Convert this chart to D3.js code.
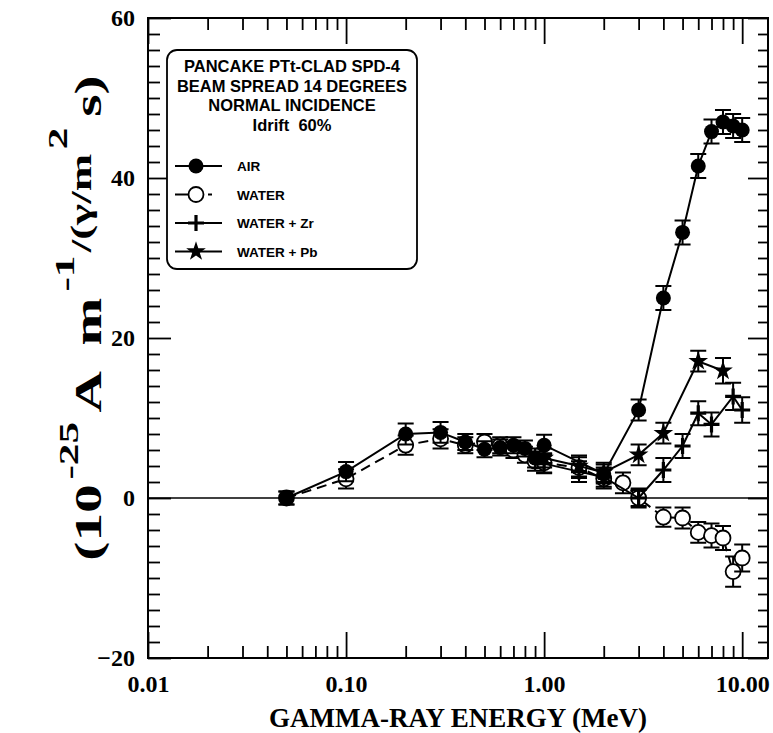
<!DOCTYPE html>
<html>
<head>
<meta charset="utf-8">
<script src="https://cdn.jsdelivr.net/npm/d3@7"></script>
<style>
  body { margin: 0; background: #fff; }
  svg { display: block; }
</style>
</head>
<body>
<svg id="chart" width="773" height="733"></svg>
<script>
// Measured responses (10^-25 A m^-1 per gamma/m^2 s) versus gamma-ray energy (MeV)
const airEnergy = [0.05, 0.1, 0.2, 0.3, 0.4, 0.5, 0.6, 0.7, 0.8, 0.9, 1.0, 2.0, 3, 4, 5, 6, 7, 8, 9, 10];
const airValue  = [0, 3.3, 8.0, 8.2, 7.0, 6.1, 6.3, 6.6, 6.2, 5.0, 6.6, 3.0, 11.0, 25.0, 33.2, 41.5, 45.8, 47.0, 46.5, 46.0];
const airError  = [0.8, 1.2, 1.3, 1.3, 1.0, 1.0, 1.0, 1.0, 1.0, 1.2, 1.3, 1.2, 1.3, 1.5, 1.5, 1.5, 1.5, 1.5, 1.5, 1.5];

const waterEnergy = [0.05, 0.1, 0.2, 0.3, 0.4, 0.5, 0.6, 0.7, 0.8, 0.9, 1.0, 1.5, 2.0, 2.5, 3, 4, 5, 6, 7, 8, 9, 10];
const waterValue  = [0, 2.4, 6.6, 7.4, 6.6, 7.0, 6.6, 6.0, 5.4, 4.6, 4.4, 3.8, 2.4, 1.9, 0, -2.4, -2.5, -4.3, -4.7, -5.0, -9.2, -7.5];
const waterError  = [0.8, 1.2, 1.2, 1.2, 1.0, 1.0, 1.0, 1.0, 1.0, 1.2, 1.2, 1.3, 1.2, 1.3, 1.2, 1.2, 1.3, 1.3, 1.5, 1.5, 1.9, 1.7];

const zrEnergy = [1.0, 1.5, 2.0, 3, 4, 5, 6, 7, 9, 10];
const zrValue  = [4.3, 3.3, 2.6, 0, 3.5, 6.5, 10.6, 9.2, 12.7, 11.0];
const zrError  = [1.2, 1.3, 1.2, 1.0, 1.5, 1.5, 1.5, 1.5, 1.7, 1.6];

const pbEnergy = [1.0, 1.5, 2.0, 3, 4, 6, 8];
const pbValue  = [5.0, 4.0, 3.2, 5.4, 8.1, 17.1, 15.9];
const pbError  = [1.2, 1.3, 1.2, 1.3, 1.3, 1.3, 1.6];

const legendTitle = ["PANCAKE PTt-CLAD SPD-4", "BEAM SPREAD 14 DEGREES", "NORMAL INCIDENCE", "Idrift  60%"];
const seriesNames = ["AIR", "WATER", "WATER + Zr", "WATER + Pb"];

const xMajorTicks = [0.01, 0.1, 1, 10];
const yMajorTicks = [-20, 0, 20, 40, 60];

const serif = "'Liberation Serif', 'Times New Roman', serif";
const sans = "'Liberation Sans', Arial, sans-serif";

const svg = d3.select("#chart");

const x = d3.scaleLog().domain([0.01, 13.5]).range([148, 768]);
const y = d3.scaleLinear().domain([-20, 60]).range([658, 18]);
const [x0, x1] = x.range();
const [y0, y1] = y.range();

// minor ticks: 2..9 within each decade
const xMinor = [];
[0.01, 0.1, 1].forEach(d => { for (let k = 2; k <= 9; k++) xMinor.push(d * k); });
const yMinor = d3.range(-20, 61, 2).filter(v => v % 20 !== 0);

const gAxes = svg.append("g").attr("stroke-linecap", "butt");

function styleAxis(g) {
  g.select(".domain").remove();
  g.selectAll(".tick line").attr("stroke", "#000").attr("stroke-width", 1.8);
  g.selectAll(".tick text").attr("fill", "#000");
}

// bottom
gAxes.append("g").attr("transform", `translate(0,${y0})`)
  .call(d3.axisBottom(x).tickValues(xMinor).tickSize(-12).tickFormat(""))
  .call(styleAxis);
gAxes.append("g").attr("transform", `translate(0,${y0})`)
  .call(d3.axisBottom(x).tickValues(xMajorTicks).tickSize(-26).tickPadding(17).tickFormat(d3.format(".2f")))
  .call(styleAxis)
  .call(g => g.selectAll(".tick text").attr("font-family", serif).attr("font-weight", "bold").attr("font-size", 24));
// top
gAxes.append("g").attr("transform", `translate(0,${y1})`)
  .call(d3.axisTop(x).tickValues(xMinor).tickSize(-12).tickFormat(""))
  .call(styleAxis);
gAxes.append("g").attr("transform", `translate(0,${y1})`)
  .call(d3.axisTop(x).tickValues(xMajorTicks).tickSize(-26).tickFormat(""))
  .call(styleAxis);
// left
gAxes.append("g").attr("transform", `translate(${x0},0)`)
  .call(d3.axisLeft(y).tickValues(yMinor).tickSize(-12).tickFormat(""))
  .call(styleAxis);
gAxes.append("g").attr("transform", `translate(${x0},0)`)
  .call(d3.axisLeft(y).tickValues(yMajorTicks).tickSize(-23).tickPadding(13).tickFormat(d3.format("d")))
  .call(styleAxis)
  .call(g => g.selectAll(".tick text").attr("font-family", serif).attr("font-weight", "bold").attr("font-size", 24));
// right
gAxes.append("g").attr("transform", `translate(${x1},0)`)
  .call(d3.axisRight(y).tickValues(yMinor).tickSize(-10).tickFormat(""))
  .call(styleAxis);
gAxes.append("g").attr("transform", `translate(${x1},0)`)
  .call(d3.axisRight(y).tickValues(yMajorTicks).tickSize(-20).tickFormat(""))
  .call(styleAxis);

// frame
svg.append("rect")
  .attr("x", x0).attr("y", y1).attr("width", x1 - x0).attr("height", y0 - y1)
  .attr("fill", "none").attr("stroke", "#000").attr("stroke-width", 2);

// zero line
svg.append("line")
  .attr("x1", x0).attr("x2", x1).attr("y1", y(0)).attr("y2", y(0))
  .attr("stroke", "#000").attr("stroke-width", 1.6);

// axis titles
svg.append("text")
  .attr("x", (x0 + x1) / 2).attr("y", 727)
  .attr("text-anchor", "middle")
  .attr("font-family", serif).attr("font-weight", "bold").attr("font-size", 27)
  .text("GAMMA-RAY ENERGY (MeV)");

// y title: wide bold serif with raised exponents
const yTitle = svg.append("text")
  .attr("transform", "translate(101,318) rotate(-90) scale(1.55,1)")
  .attr("text-anchor", "middle")
  .attr("font-family", serif).attr("font-weight", "bold").attr("font-size", 37)
  .style("white-space", "pre");
yTitle.append("tspan").text("(10");
yTitle.append("tspan").attr("dy", -23).attr("dx", 3).attr("font-size", 28).text("-25");
yTitle.append("tspan").attr("dy", 23).attr("dx", 6).text("A  m");
yTitle.append("tspan").attr("dy", -27).attr("dx", 4).attr("font-size", 28).text("-1");
yTitle.append("tspan").attr("dy", 17).attr("dx", 2).attr("font-size", 29).text("/(\u03b3/m");
yTitle.append("tspan").attr("dy", -24).attr("dx", 3).attr("font-size", 28).text("2");
yTitle.append("tspan").attr("dy", 34).attr("dx", 7).text("s)");

// series drawing
const series = [
  { name: seriesNames[0], E: airEnergy, V: airValue, S: airError, marker: "filled", dash: null },
  { name: seriesNames[1], E: waterEnergy, V: waterValue, S: waterError, marker: "open", dash: "10,6" },
  { name: seriesNames[2], E: zrEnergy, V: zrValue, S: zrError, marker: "plus", dash: null },
  { name: seriesNames[3], E: pbEnergy, V: pbValue, S: pbError, marker: "star", dash: null }
];

const line = d3.line().x(d => x(d.e)).y(d => y(d.v));
const starPath = d3.symbol().type(d3.symbolStar).size(120);

function drawMarker(g, kind, px, py) {
  if (kind === "filled") {
    g.append("circle").attr("cx", px).attr("cy", py).attr("r", 7.5).attr("fill", "#000");
  } else if (kind === "open") {
    g.append("circle").attr("cx", px).attr("cy", py).attr("r", 7.5)
      .attr("fill", "#fff").attr("stroke", "#000").attr("stroke-width", 1.8);
  } else if (kind === "plus") {
    g.append("path").attr("d", `M${px - 8},${py}H${px + 8}M${px},${py - 8}V${py + 8}`)
      .attr("stroke", "#000").attr("stroke-width", 3.2).attr("fill", "none");
  } else {
    g.append("path").attr("d", starPath()).attr("transform", `translate(${px},${py})`).attr("fill", "#000");
  }
}

const gData = svg.append("g");
// draw order: water first so filled markers sit on top
[series[1], series[2], series[3], series[0]].forEach(s => {
  const pts = s.E.map((e, i) => ({ e, v: s.V[i], s: s.S[i] }));
  const g = gData.append("g");
  g.append("path").datum(pts).attr("d", line)
    .attr("fill", "none").attr("stroke", "#000").attr("stroke-width", 2)
    .attr("stroke-dasharray", s.dash);
  pts.forEach(p => {
    const px = x(p.e);
    g.append("path")
      .attr("d", `M${px},${y(p.v + p.s)}V${y(p.v - p.s)}M${px - 8},${y(p.v + p.s)}H${px + 8}M${px - 8},${y(p.v - p.s)}H${px + 8}`)
      .attr("stroke", "#000").attr("stroke-width", 2).attr("fill", "none");
    drawMarker(g, s.marker, px, y(p.v));
  });
});

// legend box
const lg = svg.append("g");
lg.append("rect").attr("x", 167).attr("y", 50).attr("width", 250).attr("height", 219).attr("rx", 10)
  .attr("fill", "#fff").attr("stroke", "#000").attr("stroke-width", 1.8);
legendTitle.forEach((t, i) => {
  lg.append("text").attr("x", 292).attr("y", 72 + i * 19.5)
    .attr("text-anchor", "middle")
    .attr("font-family", sans).attr("font-weight", "bold").attr("font-size", 16.5)
    .style("white-space", "pre")
    .text(t);
});
series.forEach((s, i) => {
  const cy = 166 + i * 28.5;
  if (s.marker === "open") {
    lg.append("line").attr("x1", 175).attr("x2", 190).attr("y1", cy).attr("y2", cy).attr("stroke", "#000").attr("stroke-width", 2);
    lg.append("line").attr("x1", 208).attr("x2", 212).attr("y1", cy).attr("y2", cy).attr("stroke", "#000").attr("stroke-width", 2);
  } else {
    lg.append("line").attr("x1", 175).attr("x2", 222).attr("y1", cy).attr("y2", cy).attr("stroke", "#000").attr("stroke-width", 2);
  }
  drawMarker(lg, s.marker, 196, cy);
  lg.append("text").attr("x", 237).attr("y", cy + 5)
    .attr("font-family", sans).attr("font-weight", "bold").attr("font-size", 13.5)
    .text(s.name);
});
</script>
</body>
</html>
